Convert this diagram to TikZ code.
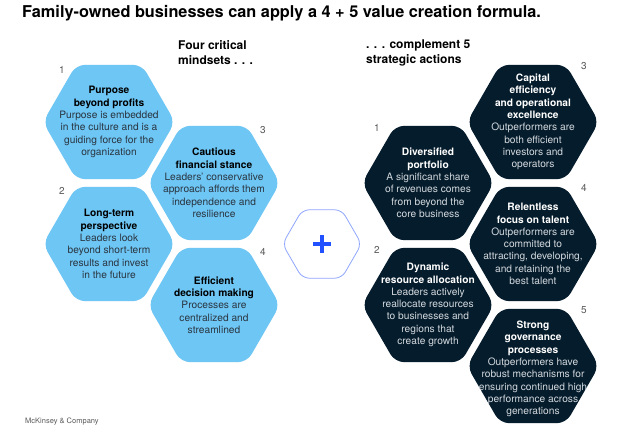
\documentclass[tikz,border=0pt]{standalone}
\usepackage{fontspec}
\setmainfont{TeX Gyre Heros}
\usetikzlibrary{shapes.geometric, positioning}

\definecolor{hexblue}{HTML}{6EC6F5}
\definecolor{hexnavy}{HTML}{051C2C}
\definecolor{plusblue}{HTML}{2251FF}
\definecolor{plusedge}{HTML}{8FA6FF}
\definecolor{numgray}{HTML}{5A5A5A}
\definecolor{bodygray}{HTML}{2A3540}
\definecolor{bodylight}{HTML}{D3D9DE}

\begin{document}
\begin{tikzpicture}[x=1pt, y=-1pt,
    hexcell/.style={regular polygon, regular polygon sides=6, minimum size=132pt, inner sep=0pt, rounded corners=9pt},
    hexlight/.style={hexcell, fill=hexblue},
    hexdark/.style={hexcell, fill=hexnavy},
    hexplus/.style={regular polygon, regular polygon sides=6, minimum size=79pt, inner sep=0pt, rounded corners=7pt, draw=plusedge, line width=0.8pt},
    celltext/.style={align=center, inner sep=0pt, font=\fontsize{10.2}{12.3}\selectfont},
    lighttext/.style={celltext, text=bodygray},
    darktext/.style={celltext, text=bodylight},
    headtext/.style={anchor=north west, inner sep=0pt, align=left, font=\fontsize{12}{15}\selectfont\bfseries},
    numlabel/.style={text=numgray, font=\fontsize{10}{12}\selectfont}]
\useasboundingbox (0,0) rectangle (640,425);
\fill[white] (0,0) rectangle (640,425);

\node[anchor=base west, inner sep=0pt, font=\fontsize{16.3}{19}\selectfont\bfseries] (title) at (22,18) {Family-owned businesses can apply a 4 + 5 value creation formula.};
\node[headtext] (leftHead) at (178,40) {Four critical\\mindsets . . .};
\node[headtext] (rightHead) at (366,40) {. . . complement 5\\strategic actions};

% four critical mindsets
\node[hexlight] (purpose) at (109,122) {};
\node[hexlight] (longterm) at (109,244) {};
\node[hexlight] (cautious) at (214,183) {};
\node[hexlight] (efficient) at (214,305) {};

\node[lighttext] (purposeText) at (purpose) {\textbf{\color{black}Purpose}\\\textbf{\color{black}beyond profits}\\Purpose is embedded\\in the culture and is a\\guiding force for the\\organization};
\node[lighttext] (longtermText) at (longterm) {\textbf{\color{black}Long-term}\\\textbf{\color{black}perspective}\\Leaders look\\beyond short-term\\results and invest\\in the future};
\node[lighttext] (cautiousText) at (cautious) {\textbf{\color{black}Cautious}\\\textbf{\color{black}financial stance}\\Leaders’ conservative\\approach affords them\\independence and\\resilience};
\node[lighttext] (efficientText) at (efficient) {\textbf{\color{black}Efficient}\\\textbf{\color{black}decision making}\\Processes are\\centralized and\\streamlined};

\node[numlabel] at (62,70) {1};
\node[numlabel] at (62,191) {2};
\node[numlabel] at (263,130) {3};
\node[numlabel] at (263,252) {4};

% plus
\node[hexplus] (plus) at (322,244) {};
\draw[plusblue, line width=3.2pt] (plus.center) +(-9,0) -- +(9,0);
\draw[plusblue, line width=3.2pt] (plus.center) +(0,-9) -- +(0,9);

% five strategic actions
\node[hexdark] (diversified) at (428,183) {};
\node[hexdark] (dynamic) at (428,305) {};
\node[hexdark] (capital) at (533,122) {};
\node[hexdark] (talent) at (533,244) {};
\node[hexdark] (governance) at (533,366) {};

\node[darktext] (diversifiedText) at (diversified) {\textbf{\color{white}Diversified}\\\textbf{\color{white}portfolio}\\A significant share\\of revenues comes\\from beyond the\\core business};
\node[darktext] (dynamicText) at (dynamic) {\textbf{\color{white}Dynamic}\\\textbf{\color{white}resource allocation}\\Leaders actively\\reallocate resources\\to businesses and\\regions that\\create growth};
\node[darktext] (capitalText) at (capital) {\textbf{\color{white}Capital}\\\textbf{\color{white}efficiency}\\\textbf{\color{white}and operational}\\\textbf{\color{white}excellence}\\Outperformers are\\both efficient\\investors and\\operators};
\node[darktext] (talentText) at (talent) {\textbf{\color{white}Relentless}\\\textbf{\color{white}focus on talent}\\Outperformers are\\committed to\\attracting, developing,\\and retaining the\\best talent};
\node[darktext] (governanceText) at ([yshift=-3pt]governance) {\textbf{\color{white}Strong}\\\textbf{\color{white}governance}\\\textbf{\color{white}processes}\\Outperformers have\\robust mechanisms for\\ensuring continued high\\performance across\\generations};

\node[numlabel] at (377,128) {1};
\node[numlabel] at (377,250) {2};
\node[numlabel] at (584,66) {3};
\node[numlabel] at (584,188) {4};
\node[numlabel] at (584,310) {5};

\node[anchor=base west, inner sep=0pt, text=numgray, font=\fontsize{7.5}{9}\selectfont] (source) at (25,423) {McKinsey \& Company};

\end{tikzpicture}
\end{document}
